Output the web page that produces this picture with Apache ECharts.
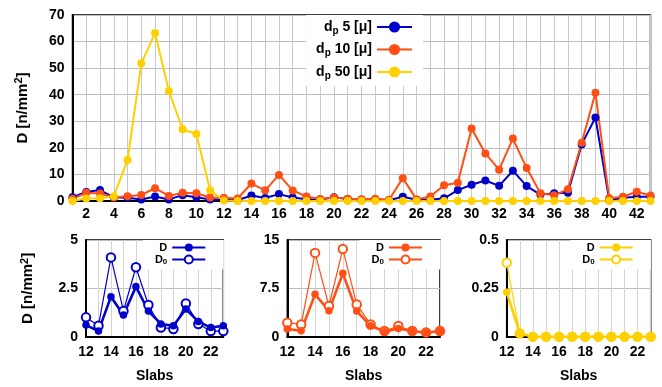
<!DOCTYPE html>
<html>
<head>
<meta charset="utf-8">
<script src="https://cdn.jsdelivr.net/npm/echarts@6/dist/echarts.min.js"></script>
<style>html,body{margin:0;padding:0;background:#fff}#c{width:662px;height:387px}</style>
</head>
<body>
<div id="c"></div>
<script>
// ---- data ----
const slabsAll = [1,2,3,4,5,6,7,8,9,10,11,12,13,14,15,16,17,18,19,20,21,22,23,24,25,26,27,28,29,30,31,32,33,34,35,36,37,38,39,40,41,42,43];
const d5 =  [1.4,3.4,4.1,1.4,1.2,0.6,1.7,0.6,2.2,1.4,0.6,0.6,0.29,2.07,1.12,2.59,1.33,0.66,0.57,1.43,0.78,0.47,0.57,0.3,1.6,0.5,0.5,1.0,4.1,6.1,7.7,5.7,11.4,5.6,2.4,2.9,3.1,21.3,31.4,0.3,1.2,1.6,1.6];
const d10 = [0.8,3.1,2.8,1.3,1.8,2.3,4.8,1.9,3.1,2.9,1.3,1.19,0.93,6.57,4.03,9.83,3.98,1.7,0.78,1.29,0.88,0.62,0.88,0.5,8.6,0.6,1.7,5.9,6.9,27.3,17.9,11.8,23.5,12.4,2.9,2.2,4.4,21.9,40.7,1.0,1.6,3.5,2.1];
const d50 = [0,0.9,1.0,1.8,15.4,51.8,63.2,41.4,27.0,25.2,4.0,0.23,0.02,0,0,0,0,0,0,0,0,0,0,0,0,0,0,0,0,0,0,0,0,0,0,0,0,0,0,0,0,0,0];
const topXTicks = [2,4,6,8,10,12,14,16,18,20,22,24,26,28,30,32,34,36,38,40,42];

const slabsZoom = [12,13,14,15,16,17,18,19,20,21,22,23];
const zoomXTicks = [12,14,16,18,20,22];
const d5D   = [0.6,0.29,2.07,1.12,2.59,1.33,0.66,0.57,1.43,0.78,0.47,0.57];
const d5D0  = [1.0,0.57,4.1,1.33,3.59,1.64,0.48,0.4,1.72,0.66,0.29,0.29];
const d10D  = [1.19,0.93,6.57,4.03,9.83,3.98,1.7,0.78,1.29,0.88,0.62,0.88];
const d10D0 = [2.17,1.9,13.0,4.76,13.6,5.0,1.9,0.88,1.66,0.88,0.67,0.88];
const d50D  = [0.23,0.017,0,0,0,0,0,0,0,0,0,0];
const d50D0 = [0.383,0.017,0,0,0,0,0,0,0,0,0,0];

const C5 = '#0000cc', C10 = '#ff4f14', C50 = '#ffd000';
const FONT = 'Liberation Sans';

const pairs = (xs, ys) => xs.map((x, i) => [x, ys[i]]);

function xAx(gi, min, max, ticks, margin, withName) {
  return {
    type: 'value', gridIndex: gi, min: min, max: max, interval: 1,
    axisLine: {show: true, onZero: false, lineStyle: {color: '#000', width: 2}},
    axisTick: {show: false},
    axisLabel: {margin: margin, color: '#000', fontFamily: FONT, fontWeight: 'bold', fontSize: 14,
      formatter: v => ticks.includes(v) ? String(v) : ''},
    splitLine: {show: true, lineStyle: {color: gi === 0 ? '#c8c8c8' : '#d4d4d4', width: 1}},
    name: withName ? 'Slabs' : '', nameLocation: 'middle', nameGap: 32,
    nameTextStyle: {color: '#000', fontFamily: FONT, fontWeight: 'bold', fontSize: 14}
  };
}
const yNameRich = {
  a: {fontFamily: FONT, fontWeight: 'bold', fontSize: 15, color: '#000', lineHeight: 18},
  s: {fontFamily: FONT, fontWeight: 'bold', fontSize: 11, color: '#000', lineHeight: 10, verticalAlign: 'top'}
};
function yAx(gi, max, interval, withName, gap) {
  return {
    type: 'value', gridIndex: gi, min: 0, max: max, interval: interval,
    axisLine: {show: true, lineStyle: {color: '#000', width: 2}},
    axisTick: {show: false},
    axisLabel: {margin: 8, color: '#000', fontFamily: FONT, fontWeight: 'bold', fontSize: 14},
    splitLine: {show: true, lineStyle: {color: '#bdbdbd', width: 1}},
    name: withName ? '{a|D [n/mm}{s|2}{a|]}' : '', nameLocation: 'middle', nameGap: gap,
    nameTextStyle: {color: '#000', fontFamily: FONT, fontWeight: 'bold', fontSize: 15, rich: yNameRich}
  };
}
function topSeries(name, color, ys) {
  return {
    name: name, type: 'line', xAxisIndex: 0, yAxisIndex: 0, data: pairs(slabsAll, ys),
    symbol: 'circle', symbolSize: 8, showAllSymbol: true,
    lineStyle: {color: color, width: 2}, itemStyle: {color: color}, emphasis: {disabled: true}
  };
}
function zoomSeries(name, color, ys, gi, open) {
  return {
    name: name, type: 'line', xAxisIndex: gi, yAxisIndex: gi, data: pairs(slabsZoom, ys),
    symbol: open ? 'emptyCircle' : 'circle', symbolSize: open ? 8.5 : 7.5, showAllSymbol: true,
    lineStyle: {color: color, width: open ? 1.2 : 2.6},
    itemStyle: open ? {color: color, borderWidth: 1.3} : {color: color},
    emphasis: {disabled: true}
  };
}
function zoomLegend(gi, right) {
  return {
    data: ['D#' + gi, 'D0#' + gi], orient: 'vertical', align: 'right',
    right: right, top: 240, itemWidth: 33, itemHeight: 10, itemGap: 1,
    backgroundColor: '#fff', padding: [2, 17, 4, 12],
    selectedMode: false,
    formatter: n => n.startsWith('D0') ? '{b|D}{s|0}' : '{b|D}',
    textStyle: {rich: {
      b: {fontFamily: FONT, fontWeight: 'bold', fontSize: 11, color: '#000', lineHeight: 12},
      s: {fontFamily: FONT, fontWeight: 'bold', fontSize: 8, color: '#000', lineHeight: 7, verticalAlign: 'bottom'}
    }}
  };
}

const chart = echarts.init(document.getElementById('c'), null, {renderer: 'canvas'});
chart.setOption({
  animation: false,
  backgroundColor: '#fff',
  grid: [
    {left: 72.5, top: 15, width: 578, height: 186, show: true, borderColor: '#000', borderWidth: 1.5},
    {left: 86, top: 240, width: 137.3, height: 96.7, show: true, borderColor: '#000', borderWidth: 1.5},
    {left: 287.3, top: 240, width: 152.7, height: 96.7, show: true, borderColor: '#000', borderWidth: 1.5},
    {left: 506.7, top: 240, width: 144, height: 96.7, show: true, borderColor: '#000', borderWidth: 1.5}
  ],
  xAxis: [
    xAx(0, 1, 43, topXTicks, 6, false),
    xAx(1, 12, 23, zoomXTicks, 8, true),
    xAx(2, 12, 23, zoomXTicks, 8, true),
    xAx(3, 12, 23, zoomXTicks, 8, true)
  ],
  yAxis: [
    yAx(0, 70, 10, true, 41),
    yAx(1, 5, 2.5, true, 49),
    yAx(2, 15, 7.5, false, 0),
    yAx(3, 0.5, 0.25, false, 0)
  ],
  legend: [
    {
      data: ['dp 5 [μ]', 'dp 10 [μ]', 'dp 50 [μ]'], orient: 'vertical', align: 'right',
      right: 239, top: 15, itemWidth: 35, itemHeight: 14, itemGap: 6.5,
      backgroundColor: '#fff', padding: [5, 10, 5, 10], selectedMode: false,
      formatter: n => '{b|d}{s|p}{b|' + n.slice(2) + '}',
      textStyle: {rich: {
        b: {fontFamily: FONT, fontWeight: 'bold', fontSize: 14, color: '#000', lineHeight: 18},
        s: {fontFamily: FONT, fontWeight: 'bold', fontSize: 10, color: '#000', lineHeight: 10, verticalAlign: 'bottom'}
      }}
    },
    zoomLegend(1, 662 - 223.3),
    zoomLegend(2, 662 - 440),
    zoomLegend(3, 662 - 650.7)
  ],
  series: [
    topSeries('dp 5 [μ]', C5, d5),
    topSeries('dp 10 [μ]', C10, d10),
    topSeries('dp 50 [μ]', C50, d50),
    zoomSeries('D0#1', C5, d5D0, 1, true),
    zoomSeries('D#1', C5, d5D, 1, false),
    zoomSeries('D0#2', C10, d10D0, 2, true),
    zoomSeries('D#2', C10, d10D, 2, false),
    zoomSeries('D0#3', C50, d50D0, 3, true),
    zoomSeries('D#3', C50, d50D, 3, false)
  ]
});
</script>
</body>
</html>
